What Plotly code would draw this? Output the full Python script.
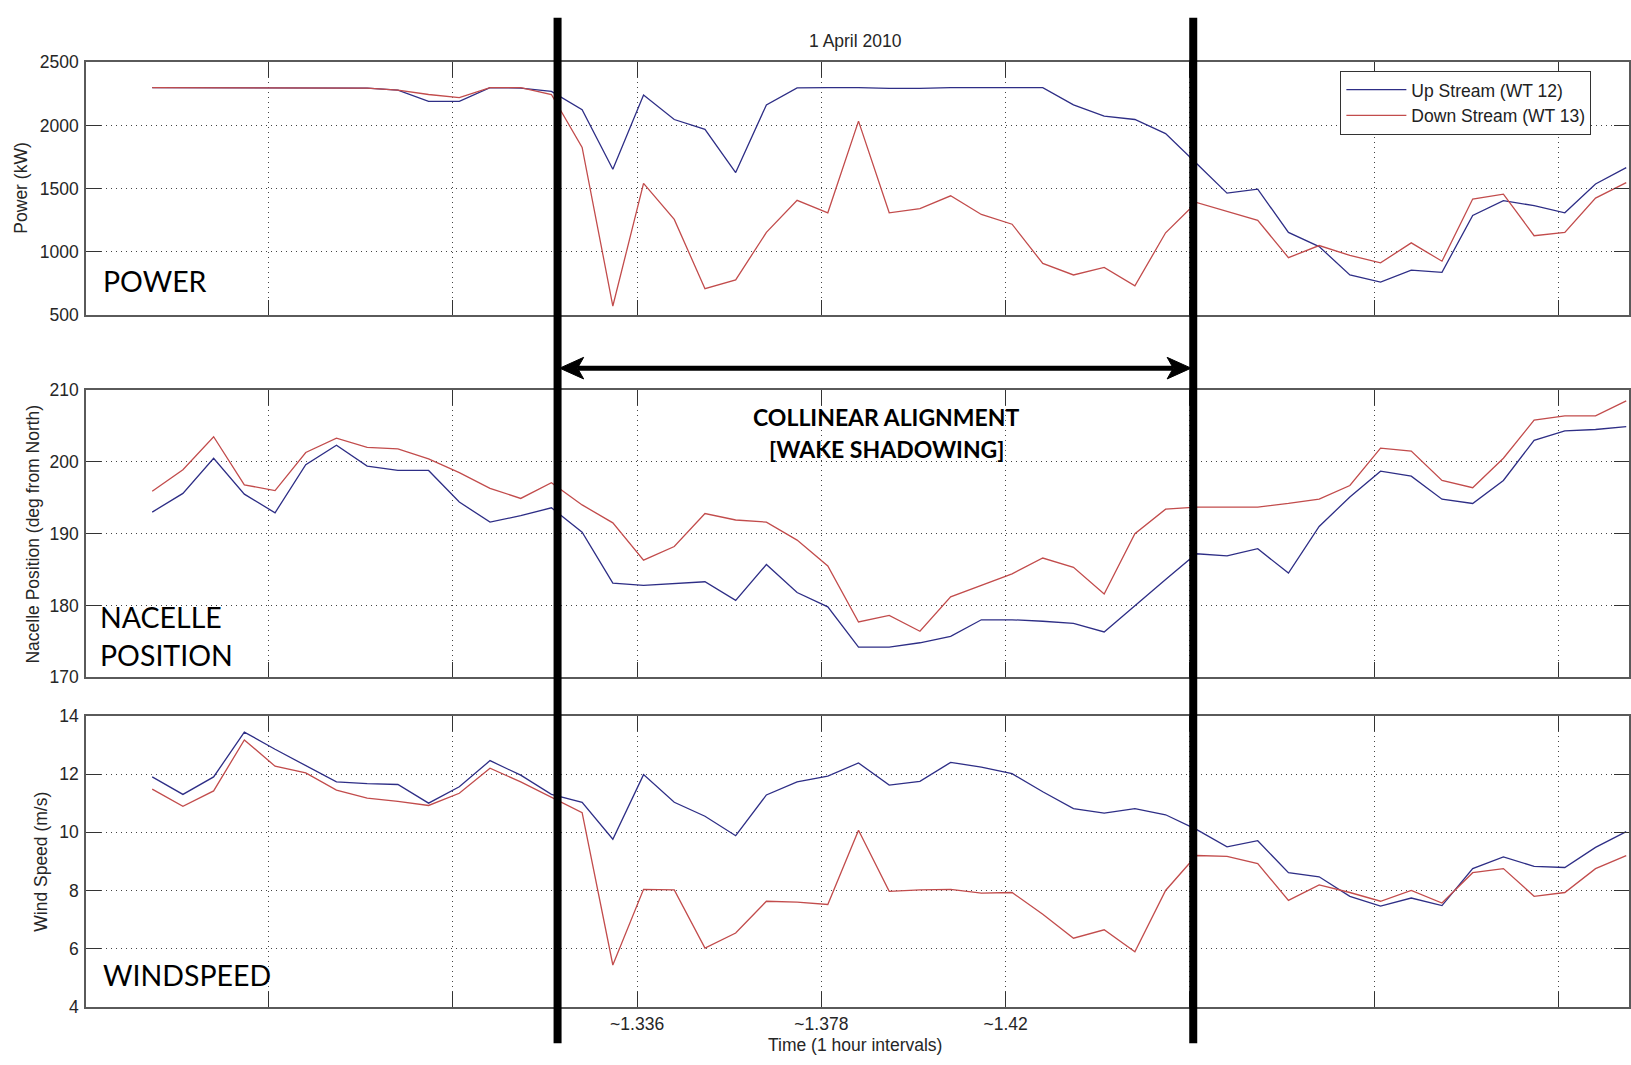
import plotly.graph_objects as go

# ---------------- data (10-minute samples, 1 April 2010) ----------------
sample = list(range(49))

power_up = [2300, 2300, 2300, 2300, 2300, 2300, 2300, 2295, 2280, 2190,
            2190, 2300, 2295, 2270, 2124, 1653, 2241, 2047, 1969, 1627,
            2163, 2298, 2300, 2300, 2293, 2293, 2300, 2300, 2300, 2300,
            2163, 2073, 2047, 1935, 1700, 1464, 1495, 1153, 1041, 816,
            759, 855, 837, 1287, 1404, 1365, 1308, 1536, 1666]
power_down = [2300, 2300, 2300, 2300, 2300, 2300, 2300, 2295, 2280, 2245,
              2220, 2300, 2300, 2245, 1826, 570, 1541, 1256, 707, 777,
              1153, 1407, 1308, 2034, 1308, 1342, 1443, 1295, 1218, 907,
              816, 876, 730, 1150, 1390, 1321, 1249, 953, 1049, 971,
              912, 1070, 925, 1417, 1456, 1127, 1153, 1425, 1547]

nacelle_up = [193.0, 195.6, 200.5, 195.5, 192.9, 199.6, 202.3, 199.4, 198.8, 198.8,
              194.4, 191.6, 192.5, 193.6, 190.2, 183.1, 182.8, 183.0, 183.3, 180.7,
              185.7, 181.8, 179.8, 174.2, 174.2, 174.8, 175.7, 178.0, 178.0, 177.8,
              177.5, 176.3, 180.0, 183.6, 187.2, 186.9, 187.9, 184.5, 191.0, 195.1,
              198.7, 198.0, 194.8, 194.2, 197.4, 203.0, 204.3, 204.5, 204.9]
nacelle_down = [195.9, 198.9, 203.5, 196.8, 196.0, 201.3, 203.3, 202.0, 201.8, 200.4,
                198.5, 196.3, 194.9, 197.1, 194.0, 191.5, 186.3, 188.2, 192.8, 191.9,
                191.6, 189.1, 185.5, 177.7, 178.6, 176.4, 181.2, 182.8, 184.4, 186.6,
                185.3, 181.6, 190.0, 193.4, 193.7, 193.7, 193.7, 194.2, 194.8, 196.7,
                201.9, 201.5, 197.4, 196.4, 200.5, 205.8, 206.4, 206.4, 208.5]

wind_up = [11.9, 11.3, 11.9, 13.44, 12.85, 12.29, 11.73, 11.67, 11.64, 11.0,
           11.56, 12.46, 11.96, 11.3, 11.03, 9.76, 11.98, 11.03, 10.55, 9.88,
           11.28, 11.73, 11.93, 12.38, 11.62, 11.75, 12.4, 12.24, 12.01, 11.39,
           10.81, 10.66, 10.81, 10.6, 10.1, 9.5, 9.71, 8.61, 8.47, 7.8,
           7.46, 7.74, 7.48, 8.75, 9.15, 8.83, 8.79, 9.48, 10.02]
wind_down = [11.48, 10.89, 11.42, 13.17, 12.27, 12.04, 11.45, 11.17, 11.06, 10.92,
             11.34, 12.2, 11.73, 11.2, 10.67, 5.44, 8.04, 8.02, 6.02, 6.54,
             7.63, 7.6, 7.52, 10.07, 7.97, 8.02, 8.04, 7.91, 7.93, 7.18,
             6.36, 6.65, 5.89, 8.0, 9.2, 9.17, 8.92, 7.66, 8.19, 7.93,
             7.63, 8.0, 7.57, 8.61, 8.75, 7.8, 7.93, 8.75, 9.2]

# hourly grid positions (in sample units) and their labels
hour_ticks = [3.79, 9.79, 15.79, 21.79, 27.79, 33.79, 39.79, 45.79]
hour_labels = ["", "", "~1.336", "~1.378", "~1.42", "", "", ""]

power_ticks = [500, 1000, 1500, 2000, 2500]
nacelle_ticks = [170, 180, 190, 200, 210]
wind_ticks = [4, 6, 8, 10, 12, 14]

# collinear alignment window (sample units)
align_start, align_end = 13.2, 33.9

# ---------------- layout helpers ----------------
W, H = 1631, 1065
ML = 86
PW = W - ML


def fx(px):
    return (px - ML) / PW


def fy(py):
    return 1 - py / H


BLUE = "#2e2e86"
RED = "#c24c4c"
AX_FONT = dict(family="Liberation Sans, Arial, sans-serif", size=17.5, color="#262626")
XRANGE = [-2.156, 48.09]

fig = go.Figure()

panels = [
    ("", "y", power_up, power_down, True),
    ("2", "y2", nacelle_up, nacelle_down, False),
    ("3", "y3", wind_up, wind_down, False),
]
for suf, yname, up, down, show in panels:
    fig.add_trace(go.Scatter(x=sample, y=up, mode="lines", name="Up Stream (WT 12)",
                             line=dict(color=BLUE, width=1.3), showlegend=show,
                             legendgroup="up", xaxis="x" + suf, yaxis=yname))
    fig.add_trace(go.Scatter(x=sample, y=down, mode="lines", name="Down Stream (WT 13)",
                             line=dict(color=RED, width=1.3), showlegend=show,
                             legendgroup="down", xaxis="x" + suf, yaxis=yname))

GRID = dict(showgrid=True, gridcolor="#444", gridwidth=1, griddash="1px,4px")
FRAME = dict(ticks="inside", ticklen=15, tickwidth=1, tickcolor="#333",
             showline=True, linecolor="#5a5a5a", linewidth=1.5, mirror="ticks",
             zeroline=False, tickfont=AX_FONT, fixedrange=True)


def xaxis(anchor, labels):
    return dict(domain=[0, 1], anchor=anchor, range=XRANGE, tickmode="array",
                tickvals=hour_ticks, ticktext=hour_labels, showticklabels=labels,
                **GRID, **FRAME)


def yaxis(anchor, dom, rng, tv):
    return dict(domain=dom, anchor=anchor, range=rng, tickmode="array", tickvals=tv,
                ticklabelstandoff=2, **GRID, **FRAME)


fig.update_layout(
    width=W, height=H,
    margin=dict(l=ML, r=0, t=0, b=0),
    paper_bgcolor="white", plot_bgcolor="white",
    xaxis=xaxis("y", False),
    xaxis2=xaxis("y2", False),
    xaxis3=xaxis("y3", True),
    yaxis=yaxis("x", [fy(310.7), fy(53.3)], [500, 2500], power_ticks),
    yaxis2=yaxis("x2", [fy(680), fy(387.3)], [170, 210], nacelle_ticks),
    yaxis3=yaxis("x3", [fy(1016), fy(719.3)], [4, 14], wind_ticks),
    legend=dict(x=fx(1342), y=fy(62), xanchor="left", yanchor="top",
                bgcolor="white", bordercolor="#333", borderwidth=1,
                font=dict(family="Liberation Sans, Arial, sans-serif", size=17.5, color="#222"),
                itemwidth=60, tracegroupgap=0, traceorder="grouped"),
    showlegend=True,
)

anns = []
# MATLAB-style texts
anns.append(dict(text="1 April 2010", x=fx(856), y=fy(32), xref="paper", yref="paper",
                 showarrow=False, xanchor="center", yanchor="middle", font=AX_FONT))
anns.append(dict(text="Time (1 hour intervals)", x=fx(856), y=fy(1055), xref="paper", yref="paper",
                 showarrow=False, xanchor="center", yanchor="middle", font=AX_FONT))
for txt, px, py in [("Power (kW)", 20, 182), ("Nacelle Position (deg from North)", 32.5, 534),
                    ("Wind Speed (m/s)", 41, 868)]:
    anns.append(dict(text=txt, x=fx(px), y=fy(py), xref="paper", yref="paper", textangle=-90,
                     showarrow=False, xanchor="center", yanchor="middle", font=AX_FONT))

# overlay texts
BIG = dict(family="Lato, Open Sans, sans-serif", size=28.5, color="black")
for txt, px, py in [("POWER", 101, 276), ("NACELLE", 98, 619), ("POSITION", 98, 657),
                    ("WINDSPEED", 101, 983)]:
    anns.append(dict(text=txt, x=fx(px), y=fy(py), xref="paper", yref="paper",
                     showarrow=False, xanchor="left", yanchor="middle", font=BIG))
BOLD = dict(family="Lato, Open Sans, sans-serif", size=23, color="black")
for txt, py in [("COLLINEAR ALIGNMENT", 415), ("[WAKE SHADOWING]", 447)]:
    anns.append(dict(text="<b>" + txt + "</b>", x=fx(888), y=fy(py), xref="paper", yref="paper",
                     showarrow=False, xanchor="center", yanchor="middle", font=BOLD))
fig.update_layout(annotations=anns)

# thick vertical boundary lines and double arrow
shapes = []
for xv in (align_start, align_end):
    shapes.append(dict(type="line", xref="x3", yref="paper", x0=xv, x1=xv,
                       y0=fy(1053), y1=fy(8), line=dict(color="black", width=8)))
ay = fy(365)
head_len = 0.78      # in sample units (~24 px)
notch = 0.2
half_w = 11 / H
tipL = align_start + 0.07
tipR = align_end - 0.07
shapes.append(dict(type="line", xref="x3", yref="paper", x0=tipL + head_len - notch,
                   x1=tipR - head_len + notch, y0=ay, y1=ay, line=dict(color="black", width=5)))
shapes.append(dict(type="path", xref="x3", yref="paper",
                   path=f"M {tipL},{ay} L {tipL + head_len},{ay + half_w} L {tipL + head_len - notch},{ay} "
                        f"L {tipL + head_len},{ay - half_w} Z",
                   fillcolor="black", line=dict(color="black", width=1)))
shapes.append(dict(type="path", xref="x3", yref="paper",
                   path=f"M {tipR},{ay} L {tipR - head_len},{ay + half_w} L {tipR - head_len + notch},{ay} "
                        f"L {tipR - head_len},{ay - half_w} Z",
                   fillcolor="black", line=dict(color="black", width=1)))
fig.update_layout(shapes=shapes)

POST = (
    "var s=document.createElement('style');"
    "s.innerHTML='html,body{margin:0;padding:0;overflow:hidden;width:1631px;height:1065px;}';"
    "document.head.appendChild(s);"
    "var d=document.getElementById('{plot_id}');"
    "d.style.position='absolute';d.style.left='0px';d.style.top='0px';"
)
fig.write_html("out.html", config={"displayModeBar": False}, post_script=POST)
